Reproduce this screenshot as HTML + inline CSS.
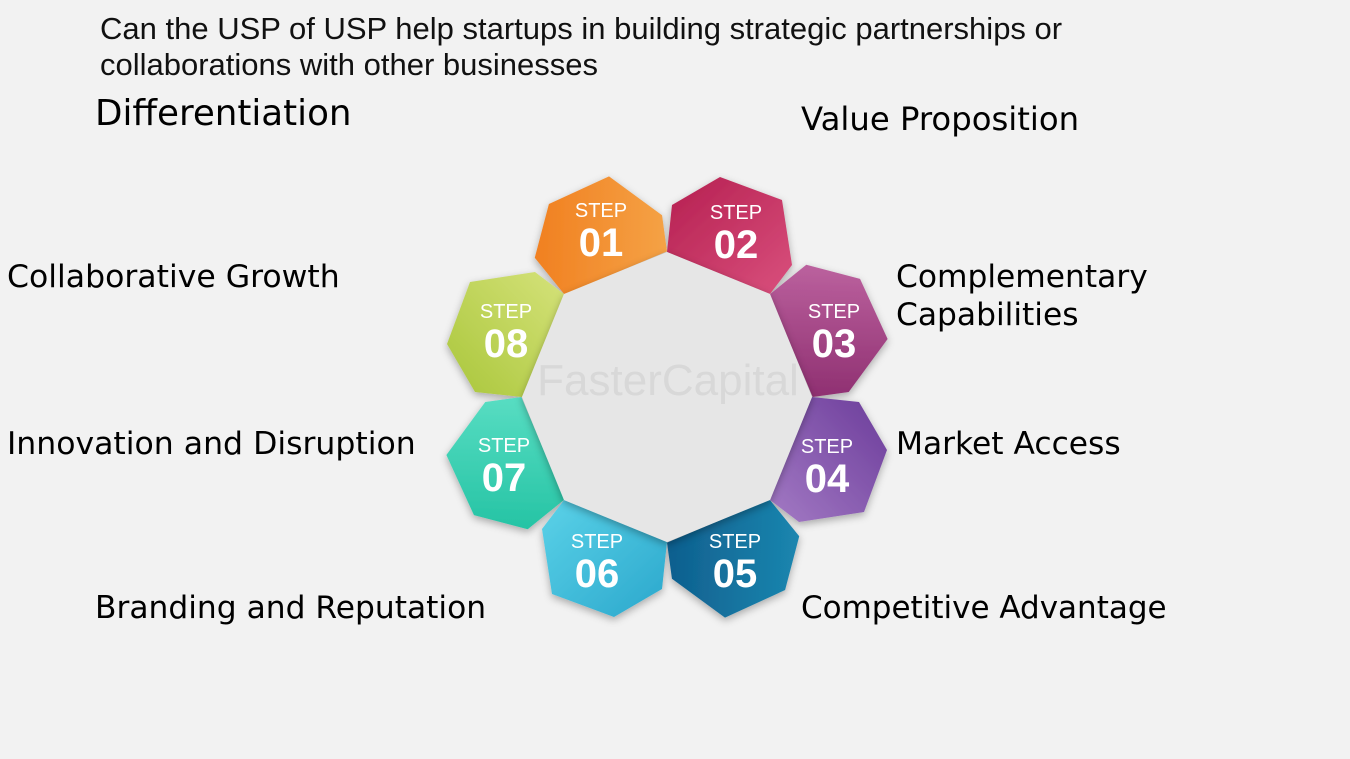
<!DOCTYPE html>
<html><head><meta charset="utf-8"><style>
body{margin:0;width:1350px;height:759px;background:#f2f2f2;overflow:hidden;position:relative;font-family:"Liberation Sans",sans-serif}
.t{position:absolute;color:#000;white-space:nowrap;font-family:"DejaVu Sans","Liberation Sans",sans-serif;font-size:31.5px;line-height:38px}
#title{position:absolute;left:100px;top:11px;font-size:31px;line-height:36px;color:#111;font-family:"Liberation Sans",sans-serif}
</style></head><body>
<div id="title">Can the USP of USP help startups in building strategic partnerships or<br>collaborations with other businesses</div>
<div class="t" style="left:95px;top:95px;font-size:35.7px">Differentiation</div>
<div class="t" style="left:801px;top:100px;font-size:32.3px">Value Proposition</div>
<div class="t" style="left:7px;top:258px;font-size:31.5px">Collaborative Growth</div>
<div class="t" style="left:896px;top:258px;font-size:31.3px">Complementary<br>Capabilities</div>
<div class="t" style="left:7px;top:425px;font-size:31.5px">Innovation and Disruption</div>
<div class="t" style="left:896px;top:425px;font-size:31.3px">Market Access</div>
<div class="t" style="left:95px;top:589px;font-size:31.3px">Branding and Reputation</div>
<div class="t" style="left:801px;top:589px;font-size:31px">Competitive Advantage</div>
<svg width="1350" height="759" style="position:absolute;left:0;top:0">
<defs>
<linearGradient id="g1" x1="0" y1="0" x2="1" y2="1"><stop offset="0" stop-color="#f07a1a"/><stop offset="1" stop-color="#f5a64a"/></linearGradient>
<linearGradient id="g2" x1="0" y1="0" x2="1" y2="1"><stop offset="0" stop-color="#b51f50"/><stop offset="1" stop-color="#d9507d"/></linearGradient>
<linearGradient id="g3" x1="0" y1="0" x2="1" y2="1"><stop offset="0" stop-color="#c36aa6"/><stop offset="1" stop-color="#8a2a6c"/></linearGradient>
<linearGradient id="g4" x1="0" y1="0" x2="1" y2="1"><stop offset="0" stop-color="#6b3c9a"/><stop offset="1" stop-color="#a37ac4"/></linearGradient>
<linearGradient id="g5" x1="0" y1="0" x2="1" y2="1"><stop offset="0" stop-color="#1d8db5"/><stop offset="1" stop-color="#0d5a8a"/></linearGradient>
<linearGradient id="g6" x1="0" y1="0" x2="1" y2="1"><stop offset="0" stop-color="#2aa7cc"/><stop offset="1" stop-color="#5bd2e8"/></linearGradient>
<linearGradient id="g7" x1="0" y1="0" x2="1" y2="1"><stop offset="0" stop-color="#1cbf9f"/><stop offset="1" stop-color="#5ee0c6"/></linearGradient>
<linearGradient id="g8" x1="0" y1="0" x2="1" y2="1"><stop offset="0" stop-color="#a9c63a"/><stop offset="1" stop-color="#d5e27a"/></linearGradient>
<filter id="sh"><feDropShadow dx="0" dy="3" stdDeviation="4" flood-opacity="0.3"/></filter>
<polygon id="p" points="667,252 672,205 720,177 782,200 792,265 770,294"/>
</defs>
<g filter="url(#sh)">
<use href="#p" fill="url(#g1)" transform="rotate(-45 667 397)"/>
<use href="#p" fill="url(#g8)" transform="rotate(-90 667 397)"/>
<use href="#p" fill="url(#g7)" transform="rotate(-135 667 397)"/>
<use href="#p" fill="url(#g6)" transform="rotate(180 667 397)"/>
<use href="#p" fill="url(#g5)" transform="rotate(135 667 397)"/>
<use href="#p" fill="url(#g4)" transform="rotate(90 667 397)"/>
<use href="#p" fill="url(#g3)" transform="rotate(45 667 397)"/>
<use href="#p" fill="url(#g2)"/>
</g>
<polygon points="667,252 770,294 812,397 770,500 667,542 564,500 522,397 564,294" fill="#e6e6e6" filter="url(#sh)"/>
<text x="668" y="395" font-size="44" fill="#d8d8d8" text-anchor="middle" font-family="Liberation Sans">FasterCapital</text>
<g fill="#fff" font-family="Liberation Sans" text-anchor="middle">
<text x="601" y="217" font-size="20">STEP</text><text x="601" y="256" font-size="40" font-weight="bold">01</text>
<text x="736" y="219" font-size="20">STEP</text><text x="736" y="258" font-size="40" font-weight="bold">02</text>
<text x="834" y="318" font-size="20">STEP</text><text x="834" y="357" font-size="40" font-weight="bold">03</text>
<text x="827" y="453" font-size="20">STEP</text><text x="827" y="492" font-size="40" font-weight="bold">04</text>
<text x="735" y="548" font-size="20">STEP</text><text x="735" y="587" font-size="40" font-weight="bold">05</text>
<text x="597" y="548" font-size="20">STEP</text><text x="597" y="587" font-size="40" font-weight="bold">06</text>
<text x="504" y="452" font-size="20">STEP</text><text x="504" y="491" font-size="40" font-weight="bold">07</text>
<text x="506" y="318" font-size="20">STEP</text><text x="506" y="357" font-size="40" font-weight="bold">08</text>
</g>
</svg>
</body></html>
